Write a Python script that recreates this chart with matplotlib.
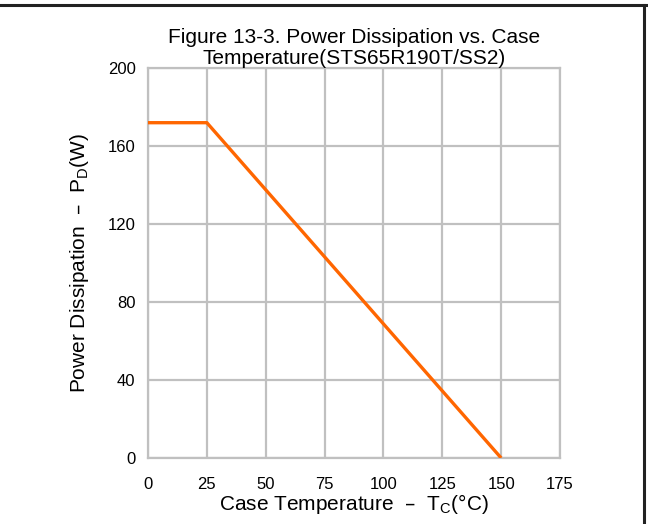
import matplotlib
matplotlib.use("Agg")
import matplotlib.pyplot as plt

# power derating curve
case_temp = [0, 25, 150]
power_diss = [172, 172, 0]

x_ticks = [0, 25, 50, 75, 100, 125, 150, 175]
y_ticks = [0, 40, 80, 120, 160, 200]

plt.rcParams["font.family"] = ["Liberation Sans", "DejaVu Sans"]

fig = plt.figure(figsize=(6.48, 5.24), dpi=100)
ax = fig.add_axes([0.2284, 0.126, 0.6358, 0.744])

ax.plot(case_temp, power_diss, c='#ff6600', linewidth=2.4, solid_capstyle='butt', zorder=3)

ax.set_xlim(0, 175)
ax.set_ylim(0, 200)
ax.set_xticks(x_ticks)
ax.set_yticks(y_ticks)
ax.tick_params(length=0, labelsize=12)
ax.tick_params(axis='x', pad=14)
ax.tick_params(axis='y', pad=9)

ax.grid(True, color='#c0c0c0', linewidth=1.6)
for s in ax.spines.values():
    s.set_color('#c0c0c0')
    s.set_linewidth(1.6)

ax.set_title("Figure 13-3. Power Dissipation vs. Case\nTemperature(STS65R190T/SS2)",
             fontsize=15, pad=3, linespacing=1.15)
ax.set_xlabel(r"Case Temperature  –  T$\mathregular{_C}$(°C)", fontsize=15, labelpad=0)
ax.set_ylabel(r"Power Dissipation  –  P$\mathregular{_D}$(W)", fontsize=15, labelpad=12)

# outer frame (top and right edges)
fig.add_artist(plt.Line2D([0, 1], [0.9905, 0.9905], color='#222222', linewidth=2.2,
                          transform=fig.transFigure))
fig.add_artist(plt.Line2D([0.9935, 0.9935], [0, 0.9905], color='#222222', linewidth=2.2,
                          transform=fig.transFigure))

plt.savefig("out.png", dpi=100)
